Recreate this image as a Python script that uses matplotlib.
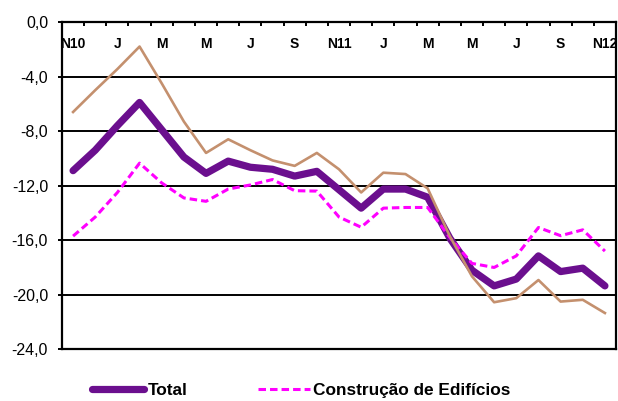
import matplotlib
matplotlib.use('Agg')
import matplotlib.pyplot as plt
import numpy as np

plt.rcParams['font.family'] = ['Liberation Sans', 'DejaVu Sans']
plt.rcParams['lines.scale_dashes'] = False

# Monthly data, Nov 2010 .. Nov 2012
tick_labels = ['N10', 'J', 'M', 'M', 'J', 'S', 'N11', 'J', 'M', 'M', 'J', 'S', 'N12']

total = [-10.9, -9.4, -7.6, -5.9, -7.9, -9.9, -11.1, -10.2, -10.65, -10.8, -11.3, -10.95,
         -12.3, -13.65, -12.25, -12.25, -12.85, -15.85, -18.2, -19.35, -18.85, -17.15,
         -18.3, -18.05, -19.35]

construcao = [-15.7, -14.3, -12.5, -10.35, -11.8, -12.9, -13.15, -12.25, -11.95, -11.55,
              -12.37, -12.4, -14.3, -15.05, -13.65, -13.6, -13.6, -15.8, -17.7, -18.0,
              -17.15, -15.07, -15.67, -15.24, -16.8]

obras = [-6.6, -5.0, -3.45, -1.8, -4.5, -7.3, -9.6, -8.6, -9.4, -10.15, -10.55, -9.6,
         -10.8, -12.5, -11.05, -11.15, -12.2, -15.7, -18.65, -20.55, -20.25, -18.92,
         -20.5, -20.37, -21.34]

yticks = [-24, -20, -16, -12, -8, -4, 0]

W, H = 618, 401
fig = plt.figure(figsize=(W / 100, H / 100), dpi=100)
ax = fig.add_axes([62 / W, 1 - 349.3 / H, (616 - 62) / W, (349.3 - 22) / H])

x = np.arange(len(total))
l_total, = ax.plot(x, total, color='#6B0F8E', lw=5.2, solid_capstyle='round',
                   solid_joinstyle='round', zorder=3, label='Total')
l_cons, = ax.plot(x, construcao, color='#FF00FF', lw=2.2, dashes=(5.4, 2.9),
                  zorder=4, label='Construção de Edifícios')
ax.plot(x, obras, color='#C4906E', lw=1.9, solid_joinstyle='round', zorder=5)

ax.set_xlim(-0.5, len(total) - 0.5)
ax.set_ylim(-24, 0)

ax.set_yticks(yticks)
ax.set_yticklabels([f"{v:.1f}".replace('.', ',') for v in yticks])
ax.yaxis.grid(True, color='black', lw=1.4)
ax.set_axisbelow(True)
for s in ax.spines.values():
    s.set_color('black')
    s.set_linewidth(1.6)

ax.tick_params(axis='y', direction='out', length=3, width=1.4, labelsize=11.5, pad=7)

ax.xaxis.tick_top()
ax.set_xticks(np.arange(0, len(total), 2))
ax.set_xticklabels(tick_labels, fontweight='bold', fontsize=10)
ax.set_xticks(np.arange(-0.5, len(total), 1), minor=True)
ax.tick_params(axis='x', which='major', length=0, pad=-21)
ax.tick_params(axis='x', which='minor', direction='in', length=3, width=1.4)

fig.legend(handles=[l_total, l_cons], loc='center left',
           bbox_to_anchor=(92 / W, 1 - 390.5 / H), ncol=2, frameon=False,
           prop={'weight': 'bold', 'size': 12.4}, handlelength=3.0,
           handletextpad=0.22, columnspacing=4.1, borderpad=0, borderaxespad=0)

fig.savefig('out.png', dpi=100)
